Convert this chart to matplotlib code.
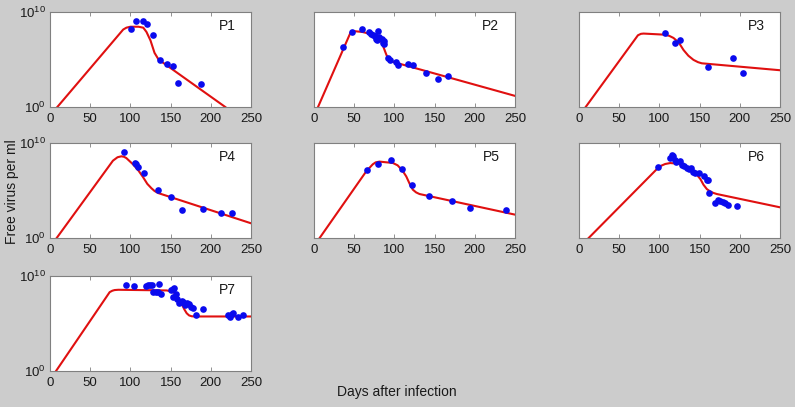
import numpy as np
import matplotlib.pyplot as plt

plt.rcParams['font.family'] = ['Liberation Sans', 'DejaVu Sans']
plt.rcParams['mathtext.default'] = 'regular'

# measured data (days, log10 virus per ml)
p1_day = [101, 107, 116, 121, 128, 136.6, 145, 152.8, 159, 188]
p1_log = [8.24, 9.1, 9.1, 8.7, 7.63, 5.0, 4.5, 4.35, 2.48, 2.41]
p2_day = [36, 47.6, 59.6, 68.3, 70.4, 73.3, 75.3, 76.6, 78.2, 79.5, 80.7, 84.9, 85.7,
          87.3, 86.5, 91.9, 94, 102.2, 104.3, 116.7, 122.9, 139.5, 154.4, 166.8]
p2_log = [6.31, 7.87, 8.16, 7.9, 7.7, 7.55, 7.45, 7.16, 7.02, 8.05, 7.34, 7.16, 6.74,
          6.63, 7.0, 5.14, 4.96, 4.75, 4.47, 4.54, 4.47, 3.62, 2.9, 3.23]
p3_day = [107.2, 119.2, 126.2, 160.2, 192, 204]
p3_log = [7.84, 6.77, 7.06, 4.22, 5.21, 3.58]
p4_day = [92.5, 105.4, 107.5, 110, 116.7, 134.2, 150.8, 164.6, 190, 212.9, 226.7]
p4_log = [9.07, 7.91, 7.83, 7.44, 6.82, 5.04, 4.34, 2.91, 3.1, 2.64, 2.64]
p5_day = [65.4, 79.9, 95.6, 109.7, 122.5, 142.8, 171.4, 194.5, 239.2]
p5_log = [7.12, 7.75, 8.25, 7.26, 5.58, 4.42, 3.93, 3.16, 2.95]
p6_day = [98.1, 113.4, 115.5, 117.5, 119.6, 120.9, 125.8, 127.9, 130.8, 134.1, 137,
          139.1, 141.6, 144.5, 149.8, 156, 158.9, 161, 162.3, 169.7, 172.6, 175.5,
          178.8, 181.7, 185, 197]
p6_log = [7.44, 8.46, 8.7, 8.6, 8.25, 7.96, 8.07, 7.65, 7.54, 7.37, 7.26, 7.33, 6.95,
          6.84, 6.84, 6.49, 6.07, 6.07, 4.77, 3.68, 4.03, 3.93, 3.82, 3.68, 3.47, 3.33]
p7_day = [94.6, 105, 119.2, 121.7, 124.2, 126.25, 128.3, 131.25, 135, 133.75, 137.5,
          150, 153.3, 154.6, 156.25, 152.5, 158.3, 160.8, 163.75, 165.8, 167.9, 170.8,
          173.3, 175, 178.3, 181.25, 190.4, 220.8, 223.3, 225.8, 227.5, 233.3, 240]
p7_log = [9.01, 8.94, 8.94, 9.01, 9.08, 9.05, 8.34, 8.34, 9.12, 8.3, 8.13, 8.48, 8.66,
          8.76, 8.13, 7.77, 7.6, 7.14, 7.42, 7.24, 7.0, 7.14, 7.07, 6.71, 6.61, 5.94,
          6.54, 5.94, 5.72, 6.0, 6.08, 5.65, 5.9]

# model fits
f1_day = [9.1, 91, 95, 100, 110, 116, 120, 125, 130, 135, 218]
f1_log = [0, 8.15, 8.35, 8.45, 8.45, 8.35, 7.9, 7.0, 5.7, 5.0, 0]
f2_day = [5, 45.5, 48, 60, 79.5, 82, 86, 90, 93, 96, 250]
f2_log = [0, 7.85, 8.0, 7.9, 7.5, 7.2, 6.4, 5.5, 5.0, 4.8, 1.17]
f3_day = [8.3, 73.3, 77, 80.3, 105, 112, 117.5, 124, 130, 136, 142.4, 148, 152.7, 250]
f3_log = [0, 7.55, 7.7, 7.73, 7.62, 7.5, 7.27, 6.8, 6.0, 5.4, 4.96, 4.72, 4.6, 3.87]
f4_day = [8.3, 78.3, 84, 88.75, 92, 95, 103.3, 110, 115.8, 121, 126.25, 130, 134.6, 250]
f4_log = [0, 8.14, 8.5, 8.6, 8.55, 8.41, 7.75, 7.1, 6.4, 5.7, 5.23, 4.95, 4.73, 1.55]
f5_day = [7, 65, 73, 76.6, 81.5, 98, 104, 110, 114.7, 119, 122.9, 127, 131.2, 250]
f5_log = [0, 7.02, 7.75, 7.96, 8.04, 7.9, 7.65, 7.1, 6.49, 5.7, 5.09, 4.8, 4.63, 2.46]
f6_day = [12, 96.9, 102, 107.2, 113.4, 123.8, 134.1, 146.5, 151, 154.8, 159, 163,
          167, 171.4, 250]
f6_log = [0, 7.26, 7.6, 7.79, 7.89, 7.82, 7.37, 6.67, 6.2, 5.61, 5.15, 4.91, 4.75,
          4.63, 3.23]
f7_day = [7.5, 74.2, 77.5, 80.4, 85, 145, 150, 155.4, 160, 163.75, 167, 170, 173,
          176.25, 180, 250]
f7_log = [0, 8.3, 8.45, 8.52, 8.55, 8.48, 8.4, 8.2, 7.6, 7.07, 6.5, 6.08, 5.85,
          5.76, 5.74, 5.74]

labels = ['P1', 'P2', 'P3', 'P4', 'P5', 'P6', 'P7']
obs = [(p1_day, p1_log), (p2_day, p2_log), (p3_day, p3_log), (p4_day, p4_log),
       (p5_day, p5_log), (p6_day, p6_log), (p7_day, p7_log)]
fits = [(f1_day, f1_log), (f2_day, f2_log), (f3_day, f3_log), (f4_day, f4_log),
        (f5_day, f5_log), (f6_day, f6_log), (f7_day, f7_log)]

W, H = 795, 407
fig = plt.figure(figsize=(W / 100, H / 100), dpi=100, facecolor='#cccccc')

col_left = [50, 314, 579]
row_top = [12, 143, 276]
ax_w, ax_h = 201, 95

for i, lab in enumerate(labels):
    r, c = divmod(i, 3)
    ax = fig.add_axes([col_left[c] / W, 1 - (row_top[r] + ax_h) / H, ax_w / W, ax_h / H])
    fd, fl = fits[i]
    ax.plot(fd, 10.0 ** np.array(fl), color='#e01010', lw=1.5, zorder=2)
    od, ol = obs[i]
    ax.plot(od, 10.0 ** np.array(ol), 'o', color='#0a0aee', ms=4.8, mec='none', zorder=3)
    ax.set_yscale('log')
    ax.set_xlim(0, 250)
    ax.set_ylim(1, 1e10)
    ax.set_xticks([0, 50, 100, 150, 200, 250])
    ax.set_yticks([1, 1e10])
    ax.minorticks_off()
    ax.tick_params(direction='in', length=3, width=0.6, color='#808080',
                   top=True, right=True, labelsize=9.5, labelcolor='#1a1a1a')
    ax.tick_params(axis='x', pad=4.5)
    ax.tick_params(axis='y', pad=3)
    if c != 0:
        ax.set_yticklabels([])
    for sp in ax.spines.values():
        sp.set_color('#808080')
        sp.set_linewidth(0.8)
    ax.text(0.88, 0.85, lab, transform=ax.transAxes, ha='center', va='center',
            fontsize=10, color='#1a1a1a')

fig.text(12 / W, 1 - 192 / H, 'Free virus per ml', rotation=90, ha='center',
         va='center', fontsize=10, color='#1a1a1a')
fig.text(397 / W, 1 - 392 / H, 'Days after infection', ha='center', va='center',
         fontsize=10, color='#1a1a1a')

fig.savefig('out.png', dpi=100, facecolor=fig.get_facecolor())
